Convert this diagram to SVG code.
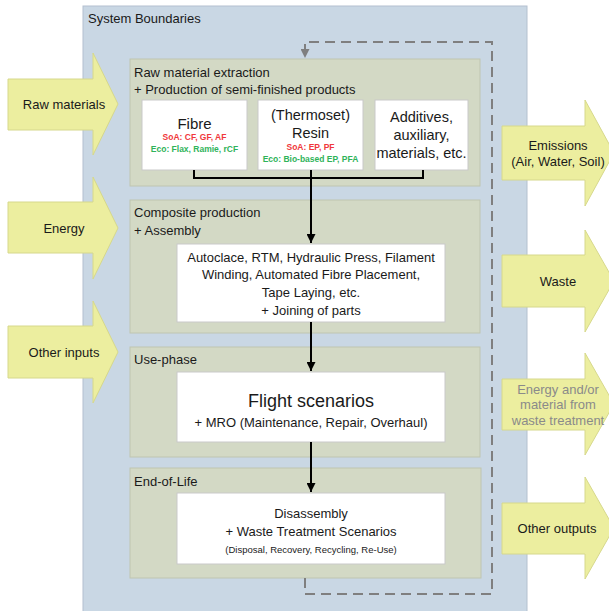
<svg xmlns="http://www.w3.org/2000/svg" width="609" height="611" viewBox="0 0 609 611">
<defs>
<marker id="ah" viewBox="0 0 10 10" refX="10" refY="5" markerWidth="4.5" markerHeight="4.5" orient="auto" markerUnits="strokeWidth"><path d="M0,0 L10,5 L0,10 z" fill="#000"/></marker>
<marker id="ahg" viewBox="0 0 10 10" refX="10" refY="5" markerWidth="4.5" markerHeight="4.5" orient="auto" markerUnits="strokeWidth"><path d="M0,0 L10,5 L0,10 z" fill="#7f7f7f"/></marker>
</defs>
<style>
text{font-family:"Liberation Sans",Arial,sans-serif;fill:#1a1a1a}
.t{font-size:13px}
.c{text-anchor:middle}
.stage{fill:#d3d9c5;stroke:#bfc5b0;stroke-width:1}
.wb{fill:#fff;stroke:#c9c9c9;stroke-width:1}
.arr{fill:#ecee9f;stroke:#d6d88c;stroke-width:1}
.red{fill:#f0383c;font-weight:bold;font-size:8.5px}
.grn{fill:#2fb35a;font-weight:bold;font-size:8.5px}
.conn{fill:none;stroke:#000;stroke-width:2}
.dash{fill:none;stroke:#7f7f7f;stroke-width:2;stroke-dasharray:10,6}
</style>
<rect x="83" y="6" width="444" height="610" fill="#c9d7e4" stroke="#b3c0cf" stroke-width="1"/>
<text x="88" y="23" class="t" font-size="13">System Boundaries</text>

<g id="in-raw"><path class="arr" d="M8,79 H93 V53 L118,104 L93,155 V130 H8 Z"/><text x="64" y="108.5" class="t c">Raw materials</text></g>
<g id="in-energy"><path class="arr" d="M8,202 H93 V177 L118,228 L93,279 V253 H8 Z"/><text x="64" y="232.5" class="t c">Energy</text></g>
<g id="in-other"><path class="arr" d="M8,326 H93 V301 L118,352 L93,403 V378 H8 Z"/><text x="64" y="356.5" class="t c">Other inputs</text></g>

<g id="out-emissions"><path class="arr" d="M502,126 H585 V100 L614,153 L585,206 V180 H502 Z"/><text x="558" y="149.5" class="t c">Emissions</text><text x="558" y="165.5" class="t c">(Air, Water, Soil)</text></g>
<g id="out-waste"><path class="arr" d="M502,255 H585 V230 L614,281 L585,332 V307 H502 Z"/><text x="558" y="285.5" class="t c">Waste</text></g>
<g id="out-energy"><path class="arr" d="M502,379 H585 V353 L614,404 L585,455 V430 H502 Z"/><text x="558" y="393.5" class="t c" style="fill:#8a8a8a" font-size="12">Energy and/or</text><text x="558" y="409" class="t c" style="fill:#8a8a8a" font-size="12">material from</text><text x="558" y="424.5" class="t c" style="fill:#8a8a8a" font-size="12">waste treatment</text></g>
<g id="out-other"><path class="arr" d="M502,503 H585 V477 L614,528 L585,579 V554 H502 Z"/><text x="557" y="532.5" class="t c">Other outputs</text></g>

<g id="stage-raw">
<rect class="stage" x="130" y="59" width="350" height="127"/>
<text x="134" y="77" class="t">Raw material extraction</text>
<text x="134" y="94" class="t">+ Production of semi-finished products</text>
</g>
<g id="fibre"><rect class="wb" x="142" y="100" width="105" height="70"/>
<text x="194.5" y="128.5" class="c" font-size="15">Fibre</text>
<text x="194.5" y="140" class="c red">SoA: CF, GF, AF</text>
<text x="194.5" y="152" class="c grn">Eco: Flax, Ramie, rCF</text></g>
<g id="resin"><rect class="wb" x="258" y="100" width="105" height="70"/>
<text x="310.5" y="120" class="c" font-size="14.5">(Thermoset)</text>
<text x="310.5" y="137.5" class="c" font-size="14.5">Resin</text>
<text x="310.5" y="150" class="c red">SoA: EP, PF</text>
<text x="310.5" y="161.5" class="c grn">Eco: Bio-based EP, PFA</text></g>
<g id="additives"><rect class="wb" x="375" y="100" width="93" height="70"/>
<text x="421.5" y="122" class="c" font-size="14.5">Additives,</text>
<text x="421.5" y="140" class="c" font-size="14.5">auxiliary,</text>
<text x="421.5" y="158" class="c" font-size="14.5">materials, etc.</text></g>

<g id="stage-composite">
<rect class="stage" x="130" y="200" width="350" height="133"/>
<text x="134" y="217" class="t">Composite production</text>
<text x="134" y="235" class="t">+ Assembly</text>
</g>
<g id="processes"><rect class="wb" x="177" y="244" width="268" height="78"/>
<text x="311" y="262" class="t c">Autoclace, RTM, Hydraulic Press, Filament</text>
<text x="311" y="279" class="t c">Winding, Automated Fibre Placement,</text>
<text x="311" y="297" class="t c">Tape Laying, etc.</text>
<text x="311" y="315" class="t c">+ Joining of parts</text></g>

<g id="stage-use">
<rect class="stage" x="130" y="347" width="350" height="110"/>
<text x="134" y="364" class="t">Use-phase</text>
</g>
<g id="flight"><rect class="wb" x="177" y="372" width="268" height="70"/>
<text x="311" y="406.5" class="c" font-size="18">Flight scenarios</text>
<text x="311" y="426.5" class="t c">+ MRO (Maintenance, Repair, Overhaul)</text></g>

<g id="stage-eol">
<rect class="stage" x="130" y="468" width="351" height="110"/>
<text x="134" y="486" class="t">End-of-Life</text>
</g>
<g id="disassembly"><rect class="wb" x="177" y="493" width="268" height="71"/>
<text x="311" y="517.5" class="t c">Disassembly</text>
<text x="311" y="535.5" class="t c">+ Waste Treatment Scenarios</text>
<text x="311" y="552.5" class="c" font-size="9.5">(Disposal, Recovery, Recycling, Re-Use)</text></g>

<g id="connectors">
<path class="conn" d="M194,170 V178 H423 V170"/>
<path class="conn" d="M311,170 V243" marker-end="url(#ah)"/>
<path class="conn" d="M311,322 V371" marker-end="url(#ah)"/>
<path class="conn" d="M311,442 V492" marker-end="url(#ah)"/>
<path class="dash" d="M305,578 V594 H492 V42 H305 V58" marker-end="url(#ahg)"/>
</g>
</svg>
